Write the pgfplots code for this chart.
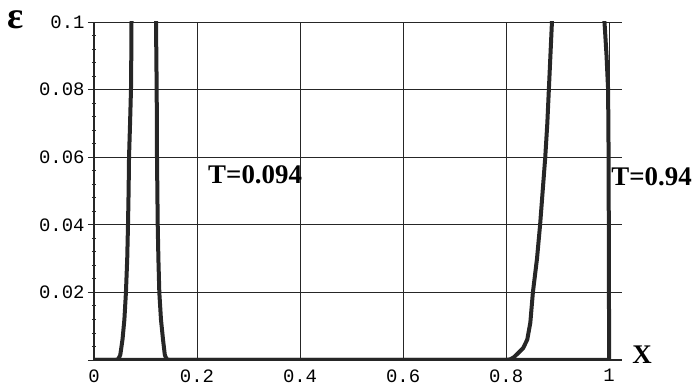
\documentclass[border=0pt]{standalone}
\usepackage{fontspec}
\setmainfont{Liberation Serif}
\setmonofont{Liberation Mono}
\usepackage{pgfplots}
\pgfplotsset{compat=1.18}
\usepackage{pgfplotstable}

\pgfplotstableread{
x y
0 0
0.040 0
0.0470 0.0002
0.0510 0.0015
0.0553 0.006
0.0590 0.012
0.0620 0.02
0.0645 0.03
0.0660 0.04
0.0672 0.05
0.0680 0.06
0.0700 0.07
0.0718 0.08
0.0724 0.09
0.0728 0.10
0.0730 0.11
0.1202 0.11
0.1204 0.10
0.1210 0.09
0.1217 0.08
0.1223 0.06
0.1237 0.04
0.1250 0.03
0.1268 0.02
0.1300 0.012
0.1340 0.006
0.1375 0.0015
0.1410 0.0002
0.148 0
1.0 0
}\curveA

\pgfplotstableread{
x y
0 0
0.800 0
0.808 0.0002
0.815 0.0008
0.823 0.002
0.833 0.0035
0.841 0.006
0.847 0.011
0.852 0.020
0.860 0.030
0.866 0.040
0.871 0.050
0.876 0.060
0.880 0.070
0.883 0.080
0.886 0.090
0.889 0.100
0.891 0.110
0.990 0.110
0.991 0.100
0.995 0.090
0.998 0.080
0.999 0.060
1.000 0.000
}\curveB

\begin{document}
\begin{tikzpicture}
\useasboundingbox (0,0) rectangle (694bp,387bp);
\begin{axis}[
  at={(94bp,27bp)}, anchor=south west,
  scale only axis, width=528bp, height=338bp,
  xmin=0, xmax=1.025, ymin=0, ymax=0.1,
  axis x line=bottom, axis y line=left,
  axis line style={-, line width=1.8bp, black!85},
  xtick={0,0.2,0.4,0.6,0.8,1},
  xticklabels={0,0.2,0.4,0.6,0.8,1},
  ytick={0,0.02,0.04,0.06,0.08,0.1},
  yticklabels={,0.02,0.04,0.06,0.08,0.1},
  minor y tick num=4,
  grid=major,
  major grid style={line width=0.9bp, black!85},
  x tick style={draw=none},
  ytick align=center, major tick length=12bp, minor tick length=4bp,
  y tick style={line width=0.9bp, black!85},
  tick label style={font=\fontsize{19}{19}\selectfont\ttfamily},
  clip mode=individual,
]
\addplot[line width=4bp, black!85, line join=round] table[x=x,y=y] {\curveA};
\addplot[line width=4bp, black!85, line join=round] table[x=x,y=y] {\curveB};
\node[anchor=west, inner sep=0, font=\fontsize{27}{27}\selectfont\bfseries] at (axis cs:0.2214,0.0547) {T=0.094};
\node[anchor=west, inner sep=0, font=\fontsize{27}{27}\selectfont\bfseries] at (axis cs:1.004,0.0541) {T=0.94};
\end{axis}
\node[font=\fontsize{38}{38}\selectfont\bfseries] at (16bp,367bp) {ε};
\node[font=\fontsize{27}{27}\selectfont\bfseries] at (642bp,32bp) {X};
\end{tikzpicture}
\end{document}
